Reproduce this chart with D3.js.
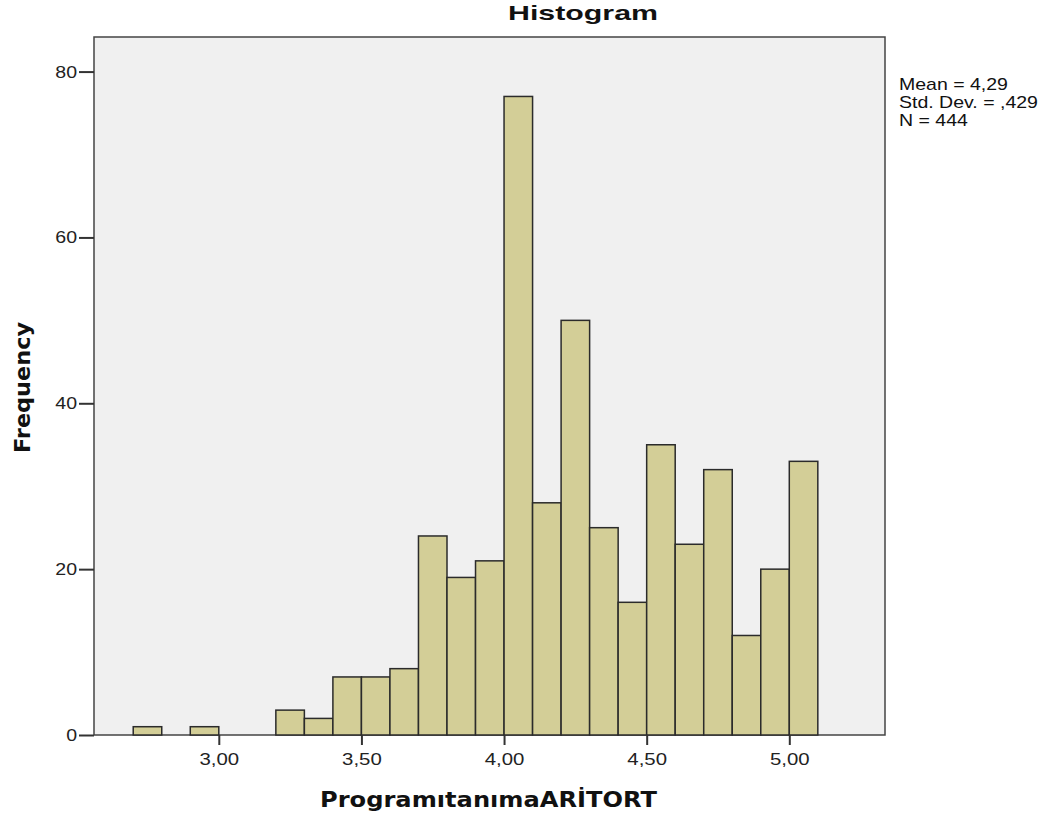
<!DOCTYPE html>
<html><head><meta charset="utf-8">
<script src="https://cdn.jsdelivr.net/npm/d3@7"></script>
<style>body{margin:0;background:#fff}</style>
</head><body>
<script>
const binStarts = [2.7,2.8,2.9,3.0,3.1,3.2,3.3,3.4,3.5,3.6,3.7,3.8,3.9,4.0,4.1,4.2,4.3,4.4,4.5,4.6,4.7,4.8,4.9,5.0];
const counts    = [1,0,1,0,0,3,2,7,7,8,24,19,21,77,28,50,25,16,35,23,32,12,20,33];
const binWidth = 0.1;
const xTicks = [3.0,3.5,4.0,4.5,5.0];
const yTicks = [0,20,40,60,80];
const statsLines = ["Mean = 4,29","Std. Dev. = ,429","N = 444"];

const W=1055,H=823;
const L=94,R=885,T=37,B=735;
const SX=1.2;
const svg=d3.select("body").append("svg").attr("width",W).attr("height",H);
const x=d3.scaleLinear().domain([2.5625,5.3355]).range([L,R]);
const y=d3.scaleLinear().domain([0,84.17]).range([B,T]);

svg.append("rect").attr("x",L).attr("y",T).attr("width",R-L).attr("height",B-T)
  .attr("fill","#f0f0f0").attr("stroke","#444").attr("stroke-width",1.5);

const data=binStarts.map((s,i)=>({s,c:counts[i]})).filter(d=>d.c>0);
svg.append("g").selectAll("rect").data(data).join("rect")
  .attr("x",d=>x(d.s)).attr("width",d=>x(d.s+binWidth)-x(d.s))
  .attr("y",d=>y(d.c)).attr("height",d=>y(0)-y(d.c))
  .attr("fill","#d3ce97").attr("stroke","#2b2b2b").attr("stroke-width",1.5);

const fmt=d=>d3.format(".2f")(d).replace(".",",");
const xa=svg.append("g").attr("transform",`translate(0,${B})`)
  .call(d3.axisBottom(x).tickValues(xTicks).tickFormat(fmt).tickSize(10).tickPadding(8));
xa.select(".domain").remove();
xa.selectAll("line").attr("stroke","#333").attr("stroke-width",2);
xa.selectAll("text").attr("font-family","Liberation Sans, Arial, sans-serif").attr("font-size",17)
  .attr("fill","#222").attr("transform",`scale(${SX},1)`);

const ya=svg.append("g").attr("transform",`translate(${L},0)`)
  .call(d3.axisLeft(y).tickValues(yTicks).tickSize(15).tickPadding(2));
ya.select(".domain").remove();
ya.selectAll("line").attr("stroke","#333").attr("stroke-width",2);
ya.selectAll("text").attr("font-family","Liberation Sans, Arial, sans-serif").attr("font-size",17)
  .attr("fill","#222").attr("x",-17/1.15).attr("transform","scale(1.15,1)");

svg.append("text").attr("x",508).attr("y",20)
  .attr("font-family","Liberation Sans, Arial, sans-serif").attr("font-weight","bold").attr("font-size",21)
  .attr("textLength",150).attr("lengthAdjust","spacingAndGlyphs")
  .attr("fill","#111").text("Histogram");

svg.append("text").attr("x",488.5).attr("y",807).attr("text-anchor","middle")
  .attr("font-family","DejaVu Sans, sans-serif").attr("font-weight","bold").attr("font-size",22)
  .attr("textLength",337).attr("lengthAdjust","spacingAndGlyphs")
  .attr("fill","#111").text("ProgramıtanımaARİTORT");

svg.append("text").attr("transform",`translate(30,387.5) rotate(-90)`).attr("text-anchor","middle")
  .attr("font-family","DejaVu Sans, sans-serif").attr("font-weight","bold").attr("font-size",22)
  .attr("textLength",131).attr("lengthAdjust","spacingAndGlyphs")
  .attr("fill","#111").text("Frequency");

svg.append("g").attr("transform","translate(899,0) scale(1.22,1)")
  .selectAll("text").data(statsLines).join("text")
  .attr("x",0).attr("y",(d,i)=>90+i*18)
  .attr("font-family","Liberation Sans, Arial, sans-serif").attr("font-size",16).attr("fill","#111")
  .text(d=>d);
</script>
</body></html>
